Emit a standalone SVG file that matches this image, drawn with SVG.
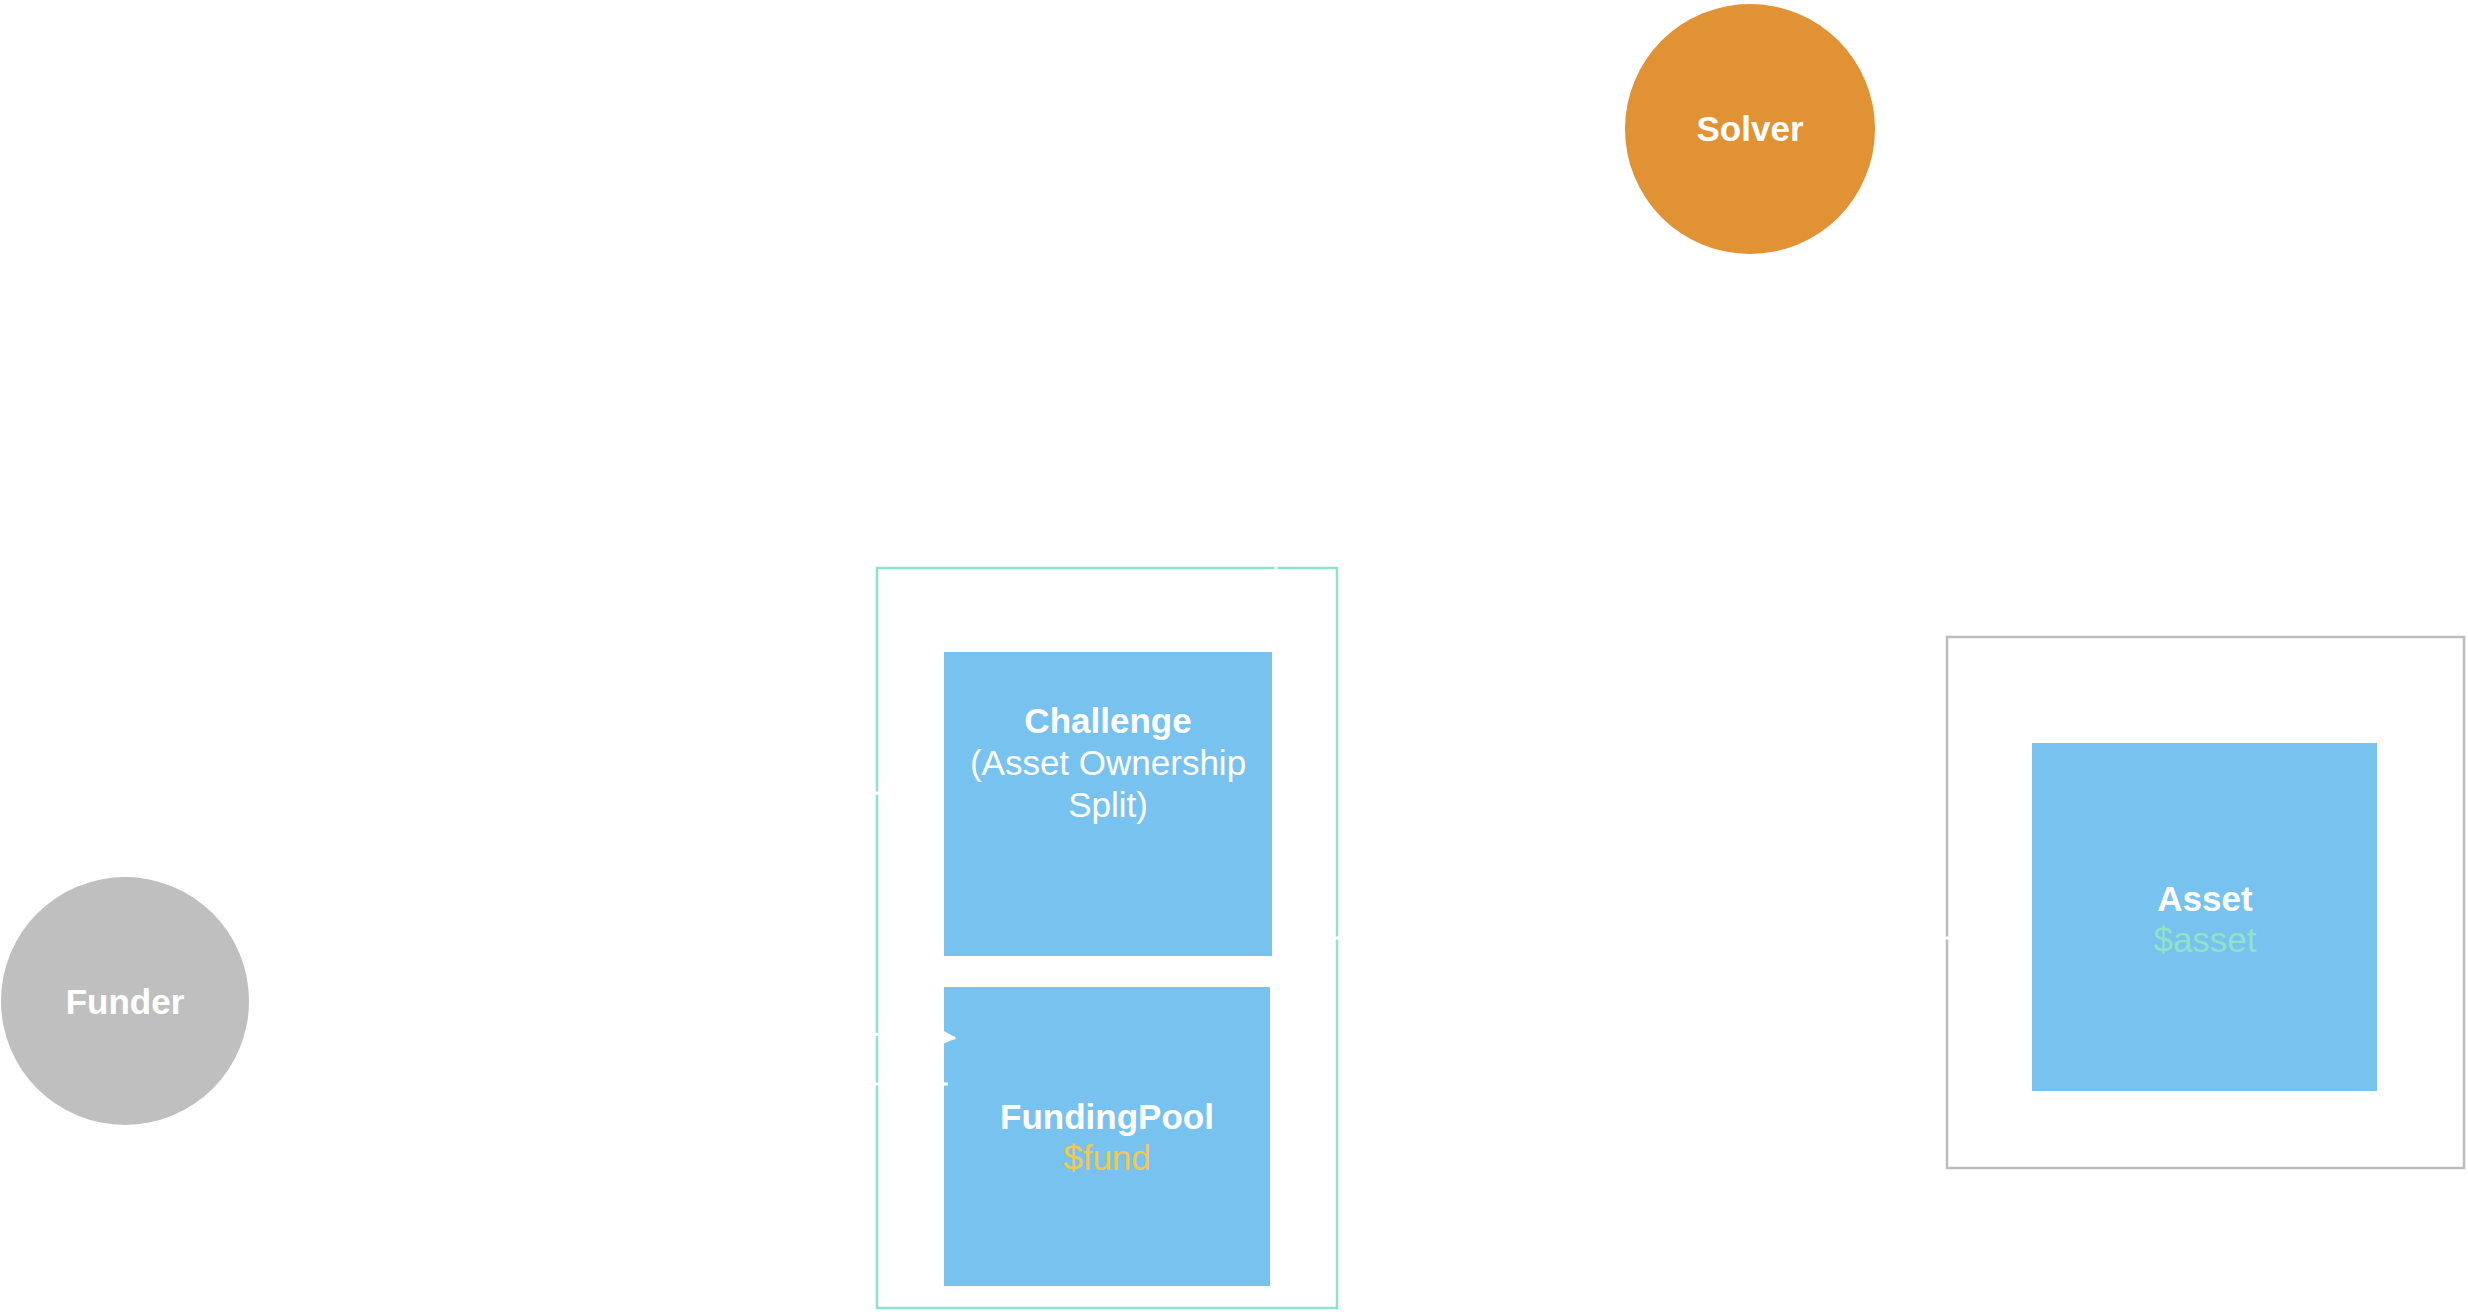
<svg xmlns="http://www.w3.org/2000/svg" width="2468" height="1312" viewBox="0 0 2468 1312">
<style>
.bg{fill:#ffffff}
.box{fill:#78C2F0}
.lbl{font-family:"Liberation Sans",Arial,Helvetica,sans-serif;font-size:35px;fill:#ffffff;text-anchor:middle}
.b{font-weight:bold}
.edge{fill:none;stroke:#ffffff;stroke-width:3}
</style>
<defs>
<marker id="arr" viewBox="0 0 10 10" refX="9" refY="5" markerWidth="5" markerHeight="5" orient="auto" markerUnits="strokeWidth">
<path d="M0,0 L10,5 L0,10 z" fill="#ffffff"/>
</marker>
</defs>
<rect class="bg" x="0" y="0" width="2468" height="1312"/>
<g id="challenge-group">
<rect x="877" y="568" width="460" height="740" fill="none" stroke="#8EE0CF" stroke-width="2.5"/>
</g>
<g id="asset-group">
<rect x="1947" y="637" width="517" height="531" fill="none" stroke="#BDBDBD" stroke-width="2.5"/>
</g>
<g id="solver">
<circle cx="1750" cy="129" r="125" fill="#E19235"/>
<text class="lbl b" x="1750" y="141">Solver</text>
</g>
<g id="funder">
<circle cx="125" cy="1001" r="124" fill="#BFBFBF"/>
<text class="lbl b" x="125" y="1014">Funder</text>
</g>
<g id="challenge">
<rect class="box" x="944" y="652" width="328" height="304"/>
<text class="lbl b" x="1108" y="733">Challenge</text>
<text class="lbl" x="1108" y="775">(Asset Ownership</text>
<text class="lbl" x="1108" y="817">Split)</text>
</g>
<g id="fundingpool">
<rect class="box" x="944" y="987" width="326" height="299"/>
<text class="lbl b" x="1107" y="1129">FundingPool</text>
<text class="lbl" x="1107" y="1170" style="fill:#F2C94C">$fund</text>
</g>
<g id="asset">
<rect class="box" x="2032" y="743" width="345" height="348"/>
<text class="lbl b" x="2205" y="911">Asset</text>
<text class="lbl" x="2205" y="952" style="fill:#8FE3C8">$asset</text>
</g>
<g id="connectors">
<path class="edge" d="M262,1006 L955,1038" marker-end="url(#arr)"/>
<path class="edge" d="M228,1084 L948,1084"/>
<path class="edge" d="M258,952 L860,793 L940,793" marker-end="url(#arr)"/>
<path class="edge" d="M1612,129 L1276,129 L1276,648" marker-end="url(#arr)"/>
<path class="edge" d="M1276,938 L2028,938" marker-end="url(#arr)"/>
</g>
</svg>
